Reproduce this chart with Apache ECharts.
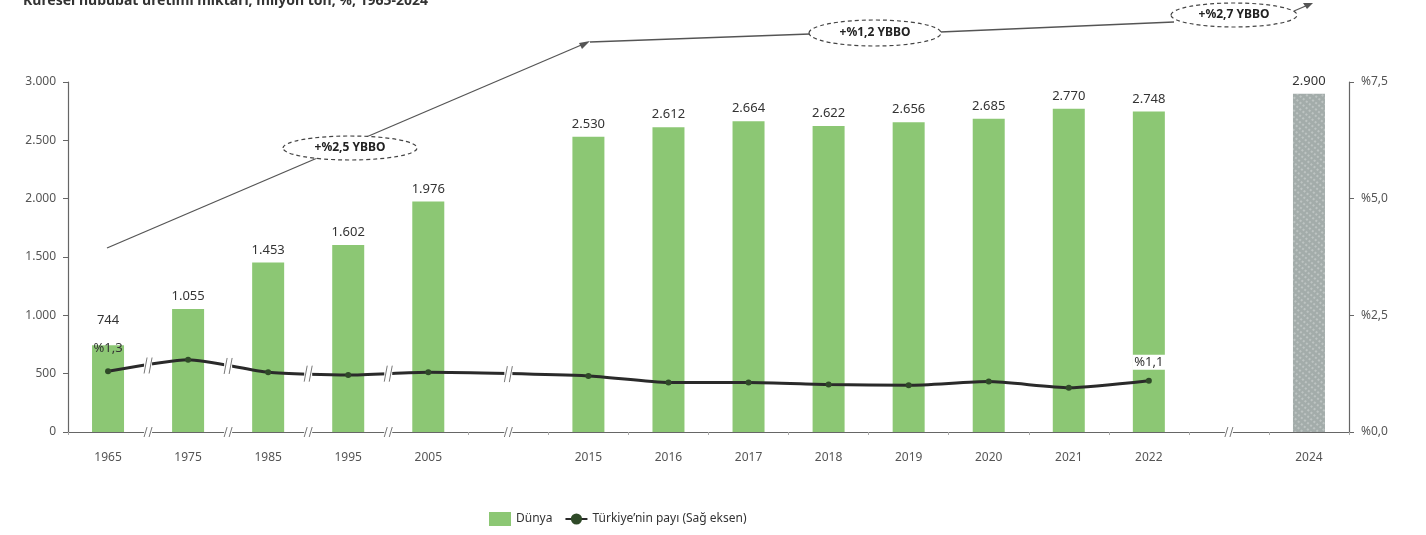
<!DOCTYPE html>
<html>
<head>
<meta charset="utf-8">
<script src="https://cdn.jsdelivr.net/npm/echarts@6/dist/echarts.min.js"></script>
<style>
html,body{margin:0;padding:0;background:#fff;}
#c{width:1426px;height:535px;}
</style>
</head>
<body>
<div id="c"></div>
<script>
// ---- data ----
const titleText = 'Küresel hububat üretimi miktarı, milyon ton, %, 1965-2024';
const categories = ['1965','1975','1985','1995','2005','','2015','2016','2017','2018','2019','2020','2021','2022','','2024'];
const worldProduction = [744,1055,1453,1602,1976,null,2530,2612,2664,2622,2656,2685,2770,2748,null,2900];
const turkeyShare = [1.3,1.55,1.28,1.22,1.28,null,1.2,1.06,1.06,1.02,1.0,1.08,0.95,1.1,null,null];
const projectedCategory = '2024';
const cagrLabels = ['+%2,5 YBBO','+%1,2 YBBO','+%2,7 YBBO'];
const seriesNames = ['Dünya','Türkiye\u2019nin payı (Sağ eksen)'];
const leftTicks = {min:0,max:3000,interval:500};
const rightTicks = {min:0,max:7.5,interval:2.5};

const FONT = 'Noto Sans';
const fmtThousands = v => String(Math.round(v)).replace(/\B(?=(\d{3})+(?!\d))/g,'.');
const fmtPct = v => '%' + v.toFixed(1).replace('.', ',');

const chart = echarts.init(document.getElementById('c'), null, {renderer:'canvas'});

const barData = worldProduction.map((v,i) => {
  if (v == null) return null;
  const item = {value:v};
  if (categories[i] === projectedCategory) {
    item.itemStyle = {color:'#a3acaa', decal:{symbol:'rect', symbolSize:0.7, color:'rgba(255,255,255,0.55)', dashArrayX:[2,2], dashArrayY:[2,3], rotation:0.7}};
  }
  if (i === 0) item.label = {distance:18};
  return item;
});
const lastShareIdx = turkeyShare.reduce((a,v,i)=> v!=null ? i : a, 0);
const lineData = turkeyShare.map((v,i) => {
  if (v == null) return null;
  const item = {value:v};
  if (i === 0 || i === lastShareIdx) {
    item.label = {show:true, position:'top', distance: i === 0 ? 13 : 8, formatter: p => fmtPct(p.value),
      color:'#333', fontSize:13, fontFamily:FONT,
      backgroundColor: i === lastShareIdx ? '#fff' : 'transparent', padding:[1,2]};
  }
  return item;
});

const option = {
  animation:false,
  title:{text:titleText, left:18, top:-11, textStyle:{fontFamily:FONT, fontSize:14, fontWeight:'bold', color:'#333'}},
  grid:{left:68, right:77, top:82, bottom:103, containLabel:false},
  legend:{
    left:484, top:507, itemGap:12, itemWidth:22, itemHeight:14,
    textStyle:{fontFamily:FONT, fontSize:12, color:'#333'},
    data:[{name:seriesNames[0], icon:'rect'}, {name:seriesNames[1]}]
  },
  xAxis:{
    type:'category', data:categories,
    axisLine:{lineStyle:{color:'#666', width:1.2}},
    axisTick:{show:true, length:3, lineStyle:{color:'#aaa'}},
    axisLabel:{fontFamily:FONT, fontSize:12, color:'#555', margin:20, interval:0}
  },
  yAxis:[
    {type:'value', min:leftTicks.min, max:leftTicks.max, interval:leftTicks.interval,
     splitLine:{show:false},
     axisLine:{show:true, lineStyle:{color:'#666', width:1.2}},
     axisTick:{show:true, length:5, lineStyle:{color:'#666'}},
     axisLabel:{fontFamily:FONT, fontSize:12, color:'#555', margin:12, formatter: v => fmtThousands(v)}},
    {type:'value', min:rightTicks.min, max:rightTicks.max, interval:rightTicks.interval, position:'right',
     splitLine:{show:false},
     axisLine:{show:true, lineStyle:{color:'#666', width:1.2}},
     axisTick:{show:true, length:5, lineStyle:{color:'#666'}},
     axisLabel:{fontFamily:FONT, fontSize:12, color:'#555', margin:12, formatter: v => fmtPct(v)}}
  ],
  series:[
    {name:seriesNames[0], type:'bar', yAxisIndex:0, data:barData, barWidth:32,
     itemStyle:{color:'#8cc774'},
     label:{show:true, position:'top', distance:6, fontFamily:FONT, fontSize:13, color:'#333',
            formatter: p => fmtThousands(p.value)}},
    {name:seriesNames[1], type:'line', yAxisIndex:1, data:lineData, connectNulls:true, smooth:0.2,
     symbol:'circle', symbolSize:6,
     lineStyle:{color:'#2a2a2a', width:3},
     itemStyle:{color:'#2f4a28'}, z:5}
  ]
};
chart.setOption(option);

// ---- decorations: axis / line breaks and CAGR annotations ----
const px = (cat, axisIdx, val) => chart.convertToPixel({xAxisIndex:0, yAxisIndex:axisIdx}, [cat, val]);
const graphics = [];
function breakMark(x, y, h) {
  graphics.push({type:'rect', shape:{x:x-4, y:y-h/2, width:8, height:h}, style:{fill:'#fff'}, z:20});
  graphics.push({type:'line', shape:{x1:x-4, y1:y+h/2, x2:x-1, y2:y-h/2}, style:{stroke:'#777', lineWidth:1}, z:21});
  graphics.push({type:'line', shape:{x1:x+1, y1:y+h/2, x2:x+4, y2:y-h/2}, style:{stroke:'#777', lineWidth:1}, z:21});
}
const baseY = px(0, 0, 0)[1];
for (let i = 0; i < categories.length - 1; i++) {
  const a = px(i, 0, 0)[0], b = px(i+1, 0, 0)[0];
  let bx = null, lineY = null;
  if (i < 4) { bx = (a+b)/2; lineY = (px(i,1,turkeyShare[i])[1] + px(i+1,1,turkeyShare[i+1])[1]) / 2; }
  if (categories[i] === '' ) {
    bx = a;
    if (turkeyShare[i-1] != null && turkeyShare[i+1] != null)
      lineY = (px(i-1,1,turkeyShare[i-1])[1] + px(i+1,1,turkeyShare[i+1])[1]) / 2;
  }
  if (bx != null) {
    breakMark(bx, baseY, 10);
    if (lineY != null) breakMark(bx, lineY, 16);
  }
}
// CAGR trend annotations
const annStroke = '#555';
graphics.push({type:'polyline', shape:{points:[[107,248],[586,43]]}, style:{stroke:annStroke, lineWidth:1.3, fill:null}, z:10});
graphics.push({type:'polygon', shape:{points:[[590,41],[579,43],[582,49]]}, style:{fill:annStroke}, z:10});
graphics.push({type:'polyline', shape:{points:[[590,42],[810,34]]}, style:{stroke:annStroke, lineWidth:1.3, fill:null}, z:10});
graphics.push({type:'polyline', shape:{points:[[940,32],[1174,22]]}, style:{stroke:annStroke, lineWidth:1.3, fill:null}, z:10});
graphics.push({type:'polyline', shape:{points:[[1294,11],[1308,5]]}, style:{stroke:annStroke, lineWidth:1.3, fill:null}, z:10});
graphics.push({type:'polygon', shape:{points:[[1313,3],[1303,3],[1307,9]]}, style:{fill:annStroke}, z:10});
const ellipses = [[350,148,67,12],[875,33,66,13],[1234,15,63,12]];
ellipses.forEach((e,k) => {
  graphics.push({type:'ellipse', shape:{cx:e[0], cy:e[1], rx:e[2], ry:e[3]},
    style:{fill:'#fff', stroke:'#444', lineWidth:1.2, lineDash:[4,3]}, z:11});
  graphics.push({type:'text', x:e[0], y:e[1], style:{text:cagrLabels[k], align:'center', verticalAlign:'middle',
    font:'bold 12px "' + FONT + '"', fill:'#222'}, z:12});
});
chart.setOption({graphic:graphics});
</script>
</body>
</html>
